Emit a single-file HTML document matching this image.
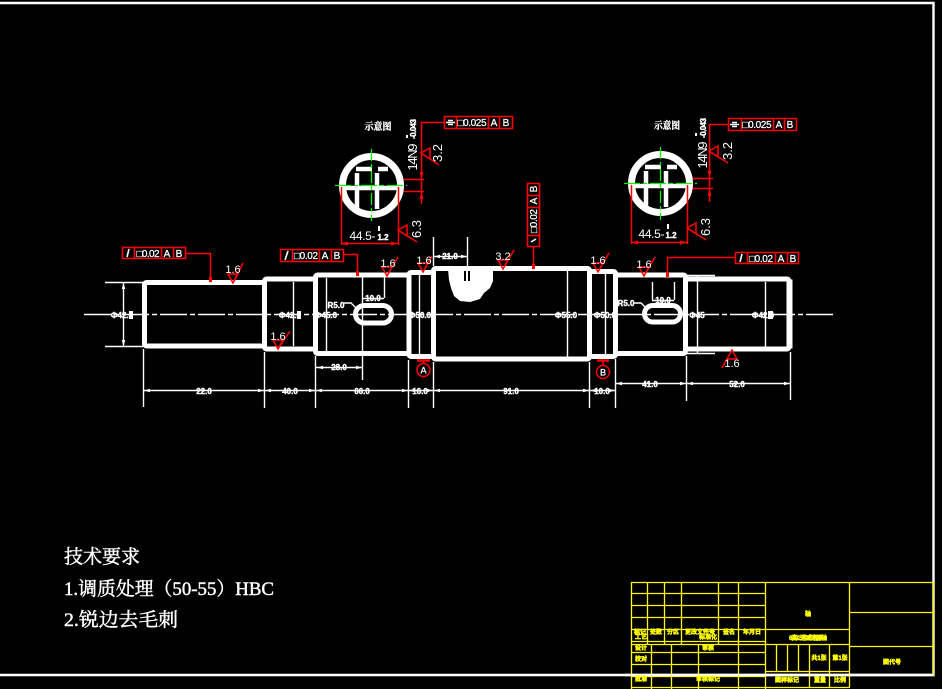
<!DOCTYPE html>
<html><head><meta charset="utf-8"><style>
html,body{margin:0;padding:0;background:#000;width:942px;height:689px;overflow:hidden}
svg{display:block}
.d{font:bold 8px "Liberation Sans",sans-serif;fill:#fff;stroke:#fff;stroke-width:.4;text-anchor:middle}
.r{font:12px "Liberation Sans",sans-serif;fill:#fff;text-anchor:middle}
.f{font:10px "Liberation Sans",sans-serif;fill:#fff;stroke:#fff;stroke-width:.25;text-anchor:middle}
.y{font:bold 6px "Liberation Sans","Noto Sans CJK SC",sans-serif;fill:#ff0;stroke:#ff0;stroke-width:.45;text-anchor:middle}
.c{font:19px "Liberation Serif","Noto Serif CJK SC",serif;fill:#fff;stroke:#fff;stroke-width:.45}
.t{font:bold 9px "Liberation Sans","Noto Serif CJK SC",serif;fill:#fff;stroke:#fff;stroke-width:.3;text-anchor:middle}
</style></head><body>
<svg width="942" height="689" viewBox="0 0 942 689" xmlns="http://www.w3.org/2000/svg">
<rect width="942" height="689" fill="#000"/>
<!-- frame -->
<path d="M0 3H933.5V675H0" fill="none" stroke="#fff" stroke-width="2.4"/>

<!-- title block -->
<g fill="none" stroke="#ff0" stroke-width="1.3">
<path d="M631.5 582.5H933M631.5 593.5H765M631.5 605.5H765M631.5 617.5H765M631.5 629.5H849M631.5 641.5H765M631.5 644.5H849M631.5 652.5H765M631.5 664.5H765M631.5 676.5H765M631.5 687.5H849"/>
<path d="M631.5 582V689M647.5 582V644M664.5 582V644M681.5 582V644M718.5 582V644M738.5 582V689M765.5 582V689M849.5 582V688M933.5 582V675"/>
<path d="M651.5 644V689M671.5 644V689M698.5 644V689"/>
<path d="M776.5 644V671M787.5 644V671M798.5 644V671M809.5 644V688M829.5 644V688M765 671.5H849"/>
<path d="M849 612.5H933M849 646.5H933"/>
</g>
<path d="M625 675H933" stroke="#fff" stroke-width="2.4"/>
<g>
<text class="y" x="640" y="634">标记</text><text class="y" x="656" y="634">处数</text><text class="y" x="673" y="634">分区</text><text class="y" x="700" y="634">更改文件号</text><text class="y" x="729" y="634">签名</text><text class="y" x="752" y="634">年月日</text>
<text class="y" x="641" y="639">工艺</text><text class="y" x="708" y="639">标准化</text>
<text class="y" x="641" y="650">设计</text><text class="y" x="708" y="650">审核</text>
<text class="y" x="641" y="661">校对</text>
<text class="y" x="641" y="681">批准</text><text class="y" x="708" y="681">审核标记</text>
<text class="y" x="808" y="616">轴</text>
<text class="y" x="808" y="640" textLength="38">6高/2速减速器轴</text>
<text class="y" x="819" y="660">共1张</text><text class="y" x="840" y="660">第1张</text>
<text class="y" x="787" y="682">图样标记</text><text class="y" x="820" y="682">重量</text><text class="y" x="840" y="682">比例</text>
<text class="y" x="892" y="664">图代号</text>
</g>

<!-- technical requirements -->
<text class="c" x="64" y="563">技术要求</text>
<text class="c" x="64" y="595" textLength="210" lengthAdjust="spacingAndGlyphs">1.调质处理（50-55）HBC</text>
<text class="c" x="64" y="626" textLength="114" lengthAdjust="spacingAndGlyphs">2.锐边去毛刺</text>

<!-- thin dimension lines -->
<g fill="none" stroke="#fff" stroke-width="1.4">
<path d="M105 282.5H143M105 346.5H143M123.5 283V346"/>
<path d="M293.5 282V346M326.5 278V351M419.5 275V354M567.5 271V357M605.5 274V354M697.5 276V353M765.5 282V347"/>
<path d="M687 275.5H715M687 353.5H715"/>
<path d="M143.5 349V407M264.5 352V408M315.5 356V408M408.5 360V408M433.5 362V408M589.5 362V408M615.5 359V408M686.5 356V401M790.5 352V400"/>
<path d="M143 390.5H589M589 390.5H615M615 383.5H790"/>
<path d="M316 367.5H362M362.5 277V380"/>
<path d="M384.5 277V298M362 298.5H384M652.5 282V300M674.5 282V300M652 300.5H674"/>
<path d="M433.5 237V266M467.5 237V266M433 256.5H467"/>
<path d="M344 303H351L356 308M634 303H641L646 308"/>
</g>
<path d="M84 314.5H834" fill="none" stroke="#fff" stroke-width="1.4" stroke-dasharray="27 3 5 3"/>
<!-- dim arrows -->
<path fill="#fff" d="M144 390.5l6-1.8v3.6zM264 390.5l-6-1.8v3.6zM265 390.5l6-1.8v3.6zM315 390.5l-6-1.8v3.6zM316 390.5l6-1.8v3.6zM408 390.5l-6-1.8v3.6zM409 390.5l6-1.8v3.6zM433 390.5l-6-1.8v3.6zM434 390.5l6-1.8v3.6zM589 390.5l-6-1.8v3.6zM590 390.5l6-1.8v3.6zM615 390.5l-6-1.8v3.6zM616 383.5l6-1.8v3.6zM686 383.5l-6-1.8v3.6zM687 383.5l6-1.8v3.6zM790 383.5l-6-1.8v3.6zM317 367.5l6-1.8v3.6zM362 367.5l-6-1.8v3.6zM434 256.5l6-1.8v3.6zM467 256.5l-6-1.8v3.6zM123.5 283l-1.8 6h3.6zM123.5 346l-1.8-6h3.6z"/>

<!-- shaft -->
<g fill="none" stroke="#fff" stroke-width="5" stroke-linejoin="round">
<rect x="144.5" y="282.5" width="120" height="63.5" rx="2"/>
<rect x="264.5" y="279" width="51" height="70" rx="2"/>
<rect x="315.5" y="275" width="93.5" height="78.5" rx="2"/>
<rect x="409" y="272.5" width="24.5" height="84" rx="2"/>
<rect x="433.5" y="268.5" width="156" height="90.5" rx="2"/>
<rect x="589.5" y="271.5" width="26" height="85" rx="2"/>
<rect x="615.5" y="275" width="70" height="78.5" rx="2"/>
<rect x="685.5" y="279" width="103.5" height="70" rx="2"/>
<rect x="355.5" y="305.5" width="36" height="17.5" rx="8.7"/>
<rect x="644.5" y="305.5" width="36" height="16.5" rx="8.2"/>
</g>
<path d="M790 281H791V347H790" stroke="#fff" stroke-width="3" fill="none"/>
<!-- hatched blob -->
<path d="M448 269H493L493 281L490 288L484 293L480 299L470 302L460 301L454 296L451 288L449 280Z" fill="#fff"/>
<path d="M464 271h2v10h-2zM468 271h2v10h-2z" fill="#000"/>

<!-- dimension values -->
<g>
<text class="d" x="204" y="394">22.0</text><text class="d" x="290" y="394">40.0</text><text class="d" x="362" y="394">66.0</text><text class="d" x="420" y="394">16.0</text><text class="d" x="511" y="394">91.0</text><text class="d" x="602" y="394">10.0</text><text class="d" x="650" y="387">41.0</text><text class="d" x="737" y="387">52.0</text>
<text class="d" x="339" y="370">28.0</text><text class="d" x="373" y="301">10.0</text><text class="d" x="663" y="303">10.0</text><text class="d" x="336" y="308">R5.0</text><text class="d" x="626" y="306">R5.0</text><text class="d" x="450" y="259">21.0</text>
<text class="d" x="122" y="318">Φ42.0</text><text class="d" x="290" y="318">Φ42.0</text><text class="d" x="326" y="318">Φ45.0</text><text class="d" x="420" y="318">Φ50.0</text><text class="d" x="566" y="318">Φ55.0</text><text class="d" x="605" y="318">Φ50.0</text><text class="d" x="697" y="318">Φ45</text><text class="d" x="763" y="318">Φ42.0</text>
</g>
<path d="M129 311h4v8h-4zM297 311h4v8h-4zM768 311h5v8h-5z" fill="#fff"/>

<!-- red leaders and symbols -->
<g fill="none" stroke="#f00" stroke-width="1.5">
<path d="M228 274H238L233 283ZM233 283L243 263"/>
<path d="M273 340H283L278 349ZM278 349L290 331"/>
<path d="M382 267H392L387 276ZM387 276L398 257"/>
<path d="M418 263H428L423 272ZM423 272L432 256"/>
<path d="M498 260H508L503 269ZM503 269L514 250"/>
<path d="M593 263H603L598 272ZM598 272L609 253"/>
<path d="M639 267H649L644 276ZM644 276L655 257"/>
<path d="M727 359H737L732 350ZM732 350L722 368"/>
<g stroke-width="1.6">
<path d="M122.5 247.5H185.5V258.5H122.5ZM134.5 247V258M161.5 247V258M173.5 247V258"/>
<path d="M280.5 249.5H343.5V261.5H280.5ZM292.5 249V261M319.5 249V261M331.5 249V261"/>
<path d="M527.5 183.5H539.5V246.5H527.5ZM527 195.5H539M527 207.5H539M527 235.5H539"/>
<path d="M735.5 252.5H798.5V263.5H735.5ZM747.5 252V263M775.5 252V263M787.5 252V263"/>
<path d="M444.5 116.5H512.5V128.5H444.5ZM456.5 116V128M488.5 116V128M499.5 116V128"/>
<path d="M728.5 118.5H796.5V130.5H728.5ZM741.5 118V130M773.5 118V130M784.5 118V130"/>
</g>
<path d="M185 253.5H210.5V281M343 254.5H357.5V275M533.5 247V268M735 257.5H667.5V275"/>
<path d="M444 122.5H421.5V204M402 179.5H424M402 191.5H424"/>
<path d="M728 124.5H709.5V202M692 178.5H713M692 188.5H713"/>
<path d="M421 153L430 148V159ZM421 153L439 165"/>
<path d="M709 151L718 146V157ZM709 151L728 163"/>
<path d="M341.5 187V245M398.5 187V245M341 243.5H398M398 230L407 225V236ZM398 230L417 242"/>
<path d="M631.5 185V244M687.5 185V244M631 242.5H687M687 228L696 223V234ZM687 228L706 240"/>
<circle cx="423.5" cy="370" r="6.5"/><circle cx="603" cy="372" r="6.5"/>
<path d="M423.5 360V364M603 360V366"/>
</g>
<path d="M417 360.5H430M597 360.5H609" stroke="#f00" stroke-width="2.5"/>
<g fill="#f00">
<path d="M209 277h3v5h-3zM356 271h3v5h-3zM532 264h3v5h-3zM666 272h3v5h-3z"/>
<path d="M341 243.5l7-2v4zM398 243.5l-7-2v4zM631 242.5l7-2v4zM687 242.5l-7-2v4z"/>
<path d="M421.5 179l-2-7h4zM421.5 192l-2 7h4zM709.5 178l-2-7h4zM709.5 189l-2 7h4z"/>
</g>
<text class="f" x="423.5" y="373.5" style="font-size:9px">A</text>
<text class="f" x="603" y="375.5" style="font-size:9px">B</text>

<!-- FCF contents -->
<g>
<text class="f" x="148" y="257" textLength="23">□0.02</text><text class="f" x="167" y="257">A</text><text class="f" x="179" y="257">B</text>
<text class="f" x="306" y="259" textLength="24">□0.02</text><text class="f" x="325" y="259">A</text><text class="f" x="337" y="259">B</text>
<text class="f" x="761" y="262" textLength="24">□0.02</text><text class="f" x="781" y="262">A</text><text class="f" x="793" y="262">B</text>
<text class="f" x="472" y="126" textLength="29">□0.025</text><text class="f" x="494" y="126">A</text><text class="f" x="506" y="126">B</text>
<text class="f" x="757" y="128" textLength="29">□0.025</text><text class="f" x="779" y="128">A</text><text class="f" x="790" y="128">B</text>
<text class="f" textLength="24" transform="translate(537 221) rotate(-90)">□0.02</text>
<text class="f" transform="translate(537 201) rotate(-90)">A</text>
<text class="f" transform="translate(537 189) rotate(-90)">B</text>
</g>
<g stroke="#fff" stroke-width="1.6" fill="none">
<path d="M127 257L129 249M285 260L288 251M740 262L742 254M531 242L536 239"/>
<path d="M448 120.5H453M446 122.5H455M448 124.5H453M732 122.5H737M730 124.5H739M732 126.5H737"/>
</g>

<!-- roughness labels -->
<g>
<text class="r" x="233" y="273" style="font-size:11px">1.6</text>
<text class="r" x="278" y="340" style="font-size:11px">1.6</text>
<text class="r" x="388" y="267" style="font-size:11px">1.6</text>
<text class="r" x="424" y="264" style="font-size:11px">1.6</text>
<text class="r" x="503" y="260" style="font-size:11px">3.2</text>
<text class="r" x="598" y="264" style="font-size:11px">1.6</text>
<text class="r" x="644" y="268" style="font-size:11px">1.6</text>
<text class="r" x="732" y="367" style="font-size:11px">1.6</text>
<text class="r" transform="translate(442 153) rotate(-90)" style="font-size:13px">3.2</text>
<text class="r" transform="translate(732 151) rotate(-90)" style="font-size:13px">3.2</text>
<text class="r" transform="translate(421 229) rotate(-90)" style="font-size:13px">6.3</text>
<text class="r" transform="translate(710 227) rotate(-90)" style="font-size:13px">6.3</text>
<text class="r" x="362.5" y="240" textLength="26">44.5-</text><text class="d" x="383" y="240">1.2</text>
<text class="r" x="651.5" y="238" textLength="26">44.5-</text><text class="d" x="671" y="238">1.2</text>
<text class="r" transform="translate(417 157) rotate(-90)" textLength="27" style="font-size:13px">14N9</text>
<text class="d" transform="translate(416 129) rotate(-90)" textLength="20" style="font-size:8px">-0.043</text>
<text class="r" transform="translate(707 155) rotate(-90)" textLength="27" style="font-size:13px">14N9</text>
<text class="d" transform="translate(706 128) rotate(-90)" textLength="20" style="font-size:8px">-0.043</text>
<text class="t" x="378" y="130" textLength="27" lengthAdjust="spacingAndGlyphs" style="font-size:10px">示意图</text>
<text class="t" x="667" y="129" textLength="26" lengthAdjust="spacingAndGlyphs" style="font-size:10px">示意图</text>
</g>
<path d="M379 226V231M668 224V229M407 135V138M696 133V136" stroke="#fff" stroke-width="2"/>

<!-- section circles -->
<g fill="none" stroke="#fff">
<g stroke-width="7">
<circle cx="371.5" cy="185.5" r="29"/>
<circle cx="660.5" cy="183.5" r="29"/>
</g>
<g stroke-width="4.5">
<path d="M343 188H400M357 173V209M377 173V209M356 169H372M378 169H388"/>
<path d="M632 186H689M646 171V207M666 171V207M645 167H661M667 167H677"/>
</g>
</g>
<g fill="none" stroke="#0f0" stroke-width="1.3">
<path d="M335 185.5H407M624 183.5H697" stroke-dasharray="16 3 4 3"/>
<path d="M371.5 149V221M660.5 147V220" stroke-dasharray="12 3 4 3"/>
</g>
<g fill="none" stroke="#f00" stroke-width="1.5"><path d="M341.5 187V205M398.5 187V205M631.5 185V203M687.5 185V203"/></g>
</svg>
</body></html>
